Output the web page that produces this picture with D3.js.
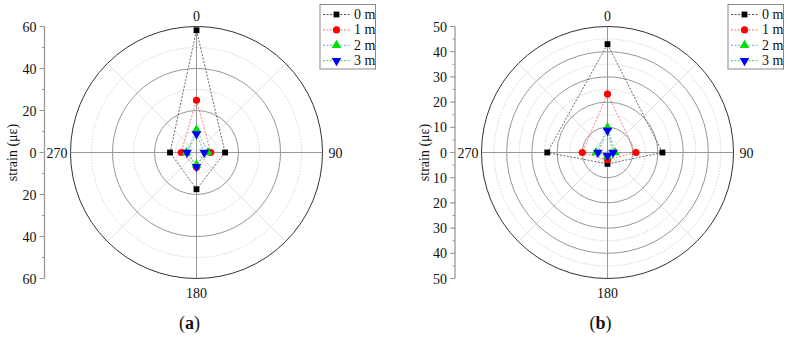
<!DOCTYPE html>
<html lang="en">
<head>
<meta charset="UTF-8">
<title>Polar strain plots</title>
<script src="https://d3js.org/d3.v7.min.js"></script>
<style>
  body { margin: 0; background: #fff; font-family: "Liberation Serif", "DejaVu Serif", "Times New Roman", serif; }
  svg { display: block; }
  text { font-family: "Liberation Serif", "DejaVu Serif", "Times New Roman", serif; fill: #111; }
</style>
</head>
<body>
<svg width="787" height="340"></svg>
<script>
// angles (deg) of the measuring points
const angles = [0, 90, 180, 270];
const seriesNames = ["0 m", "1 m", "2 m", "3 m"];

// panel (a) strain values, in order of angles
const a0m = [58.2, 13.6, 17.5, 12.6];
const a1m = [24.9, 6.8, 7.0, 7.3];
const a2m = [10.8, 5.5, 5.8, 4.8];
const a3m = [8.8, 3.7, 6.8, 4.5];

// panel (b) strain values
const b0m = [43.0, 21.8, 4.5, 23.9];
const b1m = [23.2, 11.3, 2.9, 10.0];
const b2m = [9.9, 3.0, 1.6, 4.5];
const b3m = [8.7, 2.2, 1.3, 3.8];

const aTicks = [60, 40, 20, 0, 20, 40, 60];
const bTicks = [50, 40, 30, 20, 10, 0, 10, 20, 30, 40, 50];

const lineColors = ["#444", "#f06060", "#5a9ef0", "#3cc060"];
const markColors = ["#000", "#ff0000", "#00dd00", "#0000ff"];
const markShapes = [d3.symbolSquare, d3.symbolCircle, d3.symbolTriangle, d3.symbolTriangle];
const FONT = "'Liberation Serif', 'DejaVu Serif', serif";
const FS = 14;

let svg = d3.select("svg");

function drawPanel(cfg) {
  let g = svg.append("g");
  let cx = cfg.cx, cy = cfg.cy, R = 126;
  let r = d3.scaleLinear().domain([0, cfg.max]).range([0, R]);

  // rings: minor dotted, major solid
  let minor = d3.range(cfg.minor, cfg.max, cfg.minor).filter(v => v % cfg.major !== 0);
  let major = d3.range(cfg.major, cfg.max, cfg.major);
  g.selectAll(".minorRing").data(minor).enter().append("circle")
    .attr("cx", cx).attr("cy", cy).attr("r", d => r(d))
    .attr("fill", "none").attr("stroke", "#c8c8c8").attr("stroke-width", 0.8)
    .attr("stroke-dasharray", "1.5,1.5");
  // 45 degree spokes
  [45, 135, 225, 315].forEach(a => {
    let t = a * Math.PI / 180;
    g.append("line").attr("x1", cx).attr("y1", cy)
      .attr("x2", cx + R * Math.sin(t)).attr("y2", cy - R * Math.cos(t))
      .attr("stroke", "#d8d8d8").attr("stroke-width", 0.8);
  });
  g.selectAll(".majorRing").data(major).enter().append("circle")
    .attr("cx", cx).attr("cy", cy).attr("r", d => r(d))
    .attr("fill", "none").attr("stroke", "#8a8a8a").attr("stroke-width", 0.9);
  // main cross
  g.append("line").attr("x1", cx - R).attr("x2", cx + R).attr("y1", cy).attr("y2", cy)
    .attr("stroke", "#999").attr("stroke-width", 1);
  g.append("line").attr("x1", cx).attr("x2", cx).attr("y1", cy - R).attr("y2", cy + R)
    .attr("stroke", "#999").attr("stroke-width", 1);
  // outer circle
  g.append("circle").attr("cx", cx).attr("cy", cy).attr("r", R)
    .attr("fill", "none").attr("stroke", "#333").attr("stroke-width", 1);

  // angle labels
  function lbl(x, y, anchor, t) {
    g.append("text").attr("x", x).attr("y", y).attr("text-anchor", anchor)
      .attr("font-family", FONT).attr("font-size", FS).text(t);
  }
  lbl(cx, cy - R - 6, "middle", "0");
  lbl(cx + R + 6, cy + 5, "start", "90");
  lbl(cx, cy + R + 19, "middle", "180");
  lbl(cx - R - 3, cy + 5, "end", "270");

  // left strain axis
  let y = d3.scaleLinear().domain([-cfg.max, cfg.max]).range([cy + R, cy - R]);
  let ax = g.append("g").attr("transform", "translate(" + cfg.axisX + ",0)");
  ax.append("line").attr("y1", y(-cfg.max)).attr("y2", y(cfg.max)).attr("stroke", "#999").attr("stroke-width", 1.3);
  let minorTicks = d3.range(-cfg.max, cfg.max + 0.01, cfg.axisMinor);
  ax.selectAll(".mt").data(minorTicks).enter().append("line")
    .attr("x1", -2.5).attr("x2", 0).attr("y1", d => y(d)).attr("y2", d => y(d))
    .attr("stroke", "#999").attr("stroke-width", 1);
  let majorVals = cfg.ticks.map((t, i) => i < cfg.ticks.length / 2 - 0.5 ? t : (t === 0 ? 0 : -t));
  ax.selectAll(".Mt").data(majorVals).enter().append("line")
    .attr("x1", -5).attr("x2", 0).attr("y1", d => y(d)).attr("y2", d => y(d))
    .attr("stroke", "#999").attr("stroke-width", 1);
  ax.selectAll(".tl").data(cfg.ticks).enter().append("text")
    .attr("x", -8).attr("y", (d, i) => y(majorVals[i]) + 5)
    .attr("text-anchor", "end").attr("font-family", FONT).attr("font-size", FS).text(d => d);
  g.append("text").attr("transform", "translate(" + cfg.titleX + "," + cy + ") rotate(-90)")
    .attr("text-anchor", "middle").attr("font-family", FONT).attr("font-size", FS).text("strain (με)");

  // series
  let radial = d3.lineRadial().angle(d => d.a * Math.PI / 180).radius(d => r(d.v)).curve(d3.curveLinearClosed);
  cfg.series.forEach((vals, i) => {
    let pts = angles.map((a, k) => ({ a: a, v: vals[k] }));
    let sg = g.append("g").attr("transform", "translate(" + cx + "," + cy + ")");
    sg.append("path").attr("d", radial(pts)).attr("fill", "none")
      .attr("stroke", lineColors[i]).attr("stroke-width", 0.8).attr("stroke-dasharray", "2,1.5");
  });
  cfg.series.forEach((vals, i) => {
    let sym = d3.symbol().type(markShapes[i]).size(i === 0 ? 34 : 40);
    angles.forEach((a, k) => {
      let t = a * Math.PI / 180;
      let px = cx + r(vals[k]) * Math.sin(t), py = cy - r(vals[k]) * Math.cos(t);
      g.append("path").attr("d", sym())
        .attr("transform", "translate(" + px + "," + py + ")" + (i === 3 ? " rotate(180)" : ""))
        .attr("fill", markColors[i]);
    });
  });

  // legend
  let lg = g.append("g").attr("transform", "translate(" + cfg.legX + ",4.5)");
  lg.append("rect").attr("width", 55.5).attr("height", 64.5).attr("fill", "#fff")
    .attr("stroke", "#888").attr("stroke-width", 1);
  seriesNames.forEach((name, i) => {
    let yy = 10 + i * 15.4;
    lg.append("line").attr("x1", 3).attr("x2", 30).attr("y1", yy).attr("y2", yy)
      .attr("stroke", lineColors[i]).attr("stroke-width", 0.9).attr("stroke-dasharray", "2,1.5");
    let sym = d3.symbol().type(markShapes[i]).size(i === 0 ? 34 : 40);
    lg.append("path").attr("d", sym())
      .attr("transform", "translate(16.5," + yy + ")" + (i === 3 ? " rotate(180)" : ""))
      .attr("fill", markColors[i]);
    lg.append("text").attr("x", 34).attr("y", yy + 4.5)
      .attr("font-family", FONT).attr("font-size", FS).text(name);
  });

  // panel label
  let pl = svg.append("text").attr("x", cx - 7).attr("y", 329).attr("text-anchor", "middle")
    .attr("font-family", FONT).attr("font-size", 18);
  pl.append("tspan").text("(");
  pl.append("tspan").attr("font-weight", "bold").text(cfg.label);
  pl.append("tspan").text(")");
}

drawPanel({ cx: 196.5, cy: 152.5, max: 60, major: 20, minor: 10, axisMinor: 10,
  axisX: 44.5, titleX: 17, ticks: aTicks, legX: 320, label: "a",
  series: [a0m, a1m, a2m, a3m] });
drawPanel({ cx: 607.5, cy: 152.5, max: 50, major: 10, minor: 5, axisMinor: 5,
  axisX: 455, titleX: 429, ticks: bTicks, legX: 728, label: "b",
  series: [b0m, b1m, b2m, b3m] });
</script>
</body>
</html>
